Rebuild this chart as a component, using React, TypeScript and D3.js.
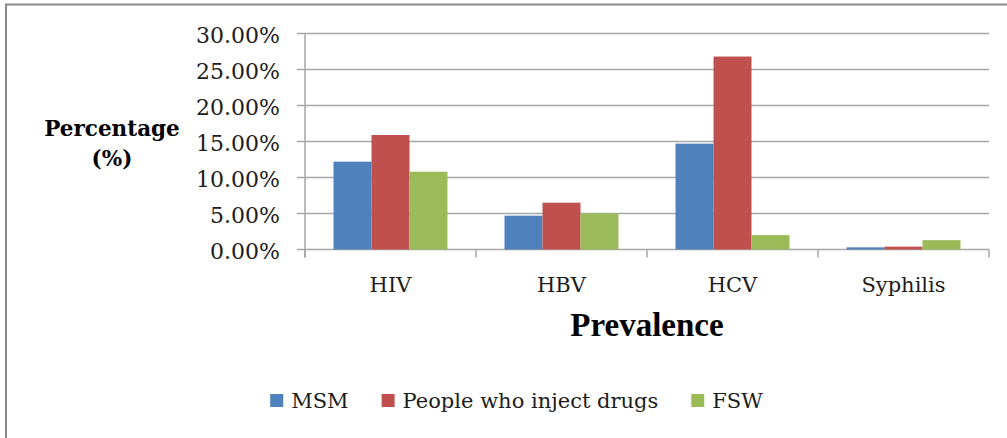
import React, { useMemo } from "react";
import * as d3 from "d3";

// Prevalence (%) by infection and key population
const categories = ["HIV", "HBV", "HCV", "Syphilis"];
const seriesNames = ["MSM", "People who inject drugs", "FSW"];
const msmValues = [12.2, 4.7, 14.7, 0.3];
const pwidValues = [15.9, 6.5, 26.8, 0.4];
const fswValues = [10.8, 5.0, 2.0, 1.3];
const yTicks = [0, 5, 10, 15, 20, 25, 30];
const seriesColors = ["#4F81BD", "#C0504D", "#9BBB59"];

const W = 1007;
const H = 438;
const plot = { left: 305, right: 989, top: 33.5, bottom: 249.5 };
const tickFont = "DejaVu Serif";

function measure(text: string, font: string): number {
  const c = document.createElement("canvas").getContext("2d");
  if (!c) return text.length * 10;
  c.font = font;
  return c.measureText(text).width;
}

export default function App() {
  const seriesValues = [msmValues, pwidValues, fswValues];

  const x = d3.scaleBand<string>().domain(categories).range([plot.left, plot.right]).paddingInner(0).paddingOuter(0);
  const xs = d3
    .scaleBand<string>()
    .domain(seriesNames)
    .range([0, x.bandwidth()])
    .paddingInner(0)
    .paddingOuter(0.75);
  const y = d3.scaleLinear().domain([0, 30]).range([plot.bottom, plot.top]);

  // legend layout, centred in the chart frame
  const legendFont = `21px "${tickFont}"`;
  const legend = useMemo(() => {
    const sq = 13;
    const textGap = 8;
    const itemGap = 33;
    const widths = seriesNames.map((s) => measure(s, legendFont));
    const total = widths.reduce((a, w) => a + sq + textGap + w, 0) + itemGap * (seriesNames.length - 1);
    const frameCenter = (6 + 1027) / 2;
    let cx = frameCenter - total / 2;
    return seriesNames.map((s, i) => {
      const item = { name: s, x: cx, tx: cx + sq + textGap, sq, color: seriesColors[i] };
      cx += sq + textGap + widths[i] + itemGap;
      return item;
    });
  }, []);

  const gridColor = "#a6a6a6";
  const textColor = "#1c1c1c";
  const catEdges = [...categories.map((c) => x(c) as number), plot.right];

  return (
    <svg width={W} height={H} style={{ position: "absolute", left: 0, top: 0, background: "#fff" }}>
      <rect x={0} y={0} width={W} height={H} fill="#fff" />
      {/* chart frame */}
      <rect x={6} y={4.5} width={1021} height={460} fill="none" stroke="#8a8a8a" strokeWidth={2} />

      {/* gridlines with outside tick marks */}
      {yTicks.map((t) => (
        <line key={"g" + t} x1={plot.left - 8} x2={plot.right} y1={y(t)} y2={y(t)} stroke={gridColor} strokeWidth={1.5} />
      ))}
      {/* value axis */}
      <line x1={plot.left} x2={plot.left} y1={plot.top} y2={plot.bottom + 8} stroke={gridColor} strokeWidth={1.5} />
      {/* category axis ticks */}
      {catEdges.map((ex, i) => (
        <line key={"t" + i} x1={ex} x2={ex} y1={plot.bottom} y2={plot.bottom + 8} stroke={gridColor} strokeWidth={1.5} />
      ))}

      {/* bars */}
      {categories.map((c, ci) =>
        seriesNames.map((s, si) => {
          const v = seriesValues[si][ci];
          const bx = (x(c) as number) + (xs(s) as number);
          return (
            <rect
              key={c + s}
              x={bx}
              y={y(v)}
              width={xs.bandwidth()}
              height={y(0) - y(v)}
              fill={seriesColors[si]}
            />
          );
        })
      )}

      {/* tick labels */}
      {yTicks.map((t) => (
        <text
          key={"l" + t}
          x={280}
          y={y(t) + 9}
          textAnchor="end"
          fontFamily={tickFont}
          fontSize={22}
          fill={textColor}
        >
          {t.toFixed(2) + "%"}
        </text>
      ))}
      {categories.map((c) => (
        <text
          key={"c" + c}
          x={(x(c) as number) + x.bandwidth() / 2}
          y={291.5}
          textAnchor="middle"
          fontFamily={tickFont}
          fontSize={21}
          fill={textColor}
        >
          {c}
        </text>
      ))}

      {/* axis titles */}
      <text x={112} y={136} textAnchor="middle" fontFamily={tickFont} fontWeight="bold" fontSize={21.5} fill="#000">
        Percentage
      </text>
      <text x={112} y={166} textAnchor="middle" fontFamily={tickFont} fontWeight="bold" fontSize={21.5} fill="#000">
        (%)
      </text>
      <text
        x={(plot.left + plot.right) / 2}
        y={336}
        textAnchor="middle"
        fontFamily="Liberation Serif"
        fontWeight="bold"
        fontSize={33}
        fill="#000"
      >
        Prevalence
      </text>

      {/* legend */}
      {legend.map((it) => (
        <g key={it.name}>
          <rect x={it.x} y={394} width={it.sq} height={it.sq} fill={it.color} />
          <text x={it.tx} y={408} fontFamily={tickFont} fontSize={21} fill={textColor}>
            {it.name}
          </text>
        </g>
      ))}
    </svg>
  );
}
